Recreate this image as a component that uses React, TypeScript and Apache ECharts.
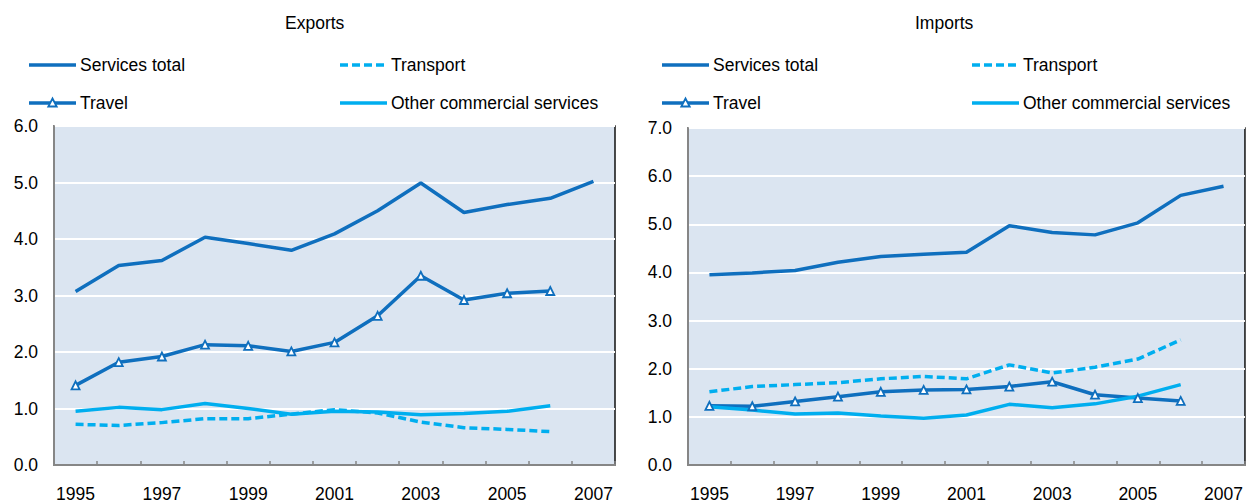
import React, { useEffect, useRef } from "react";
import * as echarts from "echarts";

const years = ["1995", "1996", "1997", "1998", "1999", "2000", "2001", "2002", "2003", "2004", "2005", "2006", "2007"];
const yTicksExports = [0, 1, 2, 3, 4, 5, 6];
const yTicksImports = [0, 1, 2, 3, 4, 5, 6, 7];

const seriesNames = ["Services total", "Transport", "Travel", "Other commercial services"];

// Exports
const expServicesTotal = [3.07, 3.53, 3.62, 4.03, 3.92, 3.8, 4.09, 4.5, 4.99, 4.47, 4.61, 4.72, 5.02];
const expTransport = [0.72, 0.7, 0.75, 0.82, 0.82, 0.9, 0.98, 0.92, 0.76, 0.66, 0.63, 0.59];
const expTravel = [1.41, 1.82, 1.92, 2.13, 2.11, 2.01, 2.17, 2.64, 3.35, 2.92, 3.04, 3.08];
const expOther = [0.95, 1.02, 0.98, 1.09, 1.0, 0.9, 0.95, 0.94, 0.89, 0.91, 0.95, 1.05];

// Imports
const impServicesTotal = [3.95, 3.99, 4.04, 4.21, 4.33, 4.38, 4.42, 4.97, 4.83, 4.78, 5.03, 5.6, 5.79];
const impTransport = [1.52, 1.63, 1.67, 1.71, 1.79, 1.84, 1.79, 2.08, 1.91, 2.03, 2.2, 2.6];
const impTravel = [1.23, 1.22, 1.32, 1.42, 1.52, 1.56, 1.57, 1.63, 1.73, 1.46, 1.39, 1.33];
const impOther = [1.21, 1.14, 1.06, 1.08, 1.02, 0.97, 1.04, 1.26, 1.19, 1.27, 1.43, 1.67];

const DARK = "#0f6fbe";
const LIGHT = "#00aeef";
const FONT = 'Arial, "Liberation Sans", sans-serif';
const FS = 17.5;
const DASH = [8, 4];

function makeSeries(idx: number, total: number[], transport: number[], travel: number[], other: number[]) {
  const base = { type: "line", xAxisIndex: idx, yAxisIndex: idx, smooth: false };
  return [
    { ...base, name: seriesNames[0], data: total, showSymbol: false, symbol: "none", lineStyle: { color: DARK, width: 3.5 }, itemStyle: { color: DARK } },
    { ...base, name: seriesNames[1], data: transport, showSymbol: false, symbol: "none", lineStyle: { color: LIGHT, width: 3.5, type: DASH }, itemStyle: { color: LIGHT } },
    {
      ...base,
      name: seriesNames[2],
      data: travel,
      symbol: "triangle",
      symbolSize: 8,
      lineStyle: { color: DARK, width: 3.5 },
      itemStyle: { color: "#ffffff", borderColor: DARK, borderWidth: 1.8 },
      z: 3,
    },
    { ...base, name: seriesNames[3], data: other, showSymbol: false, symbol: "none", lineStyle: { color: LIGHT, width: 3.5 }, itemStyle: { color: LIGHT } },
  ];
}

// legend drawn as graphic: [series index, column x of line start, row y]
function legendGraphics(x0: number, colGap: number) {
  const rows = [65, 103];
  const items: any[] = [];
  const styles = [
    { color: DARK, dash: null, tri: false },
    { color: LIGHT, dash: DASH, tri: false },
    { color: DARK, dash: null, tri: true },
    { color: LIGHT, dash: null, tri: false },
  ];
  seriesNames.forEach((name, i) => {
    const x = x0 + (i % 2) * colGap;
    const y = rows[Math.floor(i / 2)];
    const s = styles[i];
    items.push({
      type: "line",
      shape: { x1: x, y1: y, x2: x + 47, y2: y },
      style: { stroke: s.color, lineWidth: 3.5, lineDash: s.dash || undefined, lineCap: "butt" },
      silent: true,
    });
    if (s.tri) {
      const cx = x + 23.5;
      items.push({
        type: "polygon",
        shape: { points: [[cx, y - 4.5], [cx + 4.2, y + 3.5], [cx - 4.2, y + 3.5]] },
        style: { fill: "#ffffff", stroke: DARK, lineWidth: 1.8 },
        silent: true,
      });
    }
    items.push({
      type: "text",
      x: x + 51,
      y,
      style: { text: name, fontSize: FS, fontFamily: FONT, fill: "#000", verticalAlign: "middle", align: "left" },
      silent: true,
    });
  });
  return items;
}

function makeYAxis(idx: number, max: number, ticks: number[]) {
  return {
    type: "value",
    gridIndex: idx,
    min: ticks[0],
    max,
    interval: 1,
    axisLine: { show: true, lineStyle: { color: "#868686", width: 2 } },
    axisTick: { show: false },
    axisLabel: { fontSize: FS, color: "#000", fontFamily: FONT, margin: 16, formatter: (v: number) => v.toFixed(1) },
    splitLine: { show: true, lineStyle: { color: "#ffffff", width: 2 } },
  };
}

function makeXAxis(idx: number) {
  return {
    type: "category",
    gridIndex: idx,
    data: years,
    boundaryGap: true,
    axisLine: { show: true, lineStyle: { color: "#868686", width: 2 } },
    axisTick: { show: true, inside: true, length: 4, interval: 0, lineStyle: { color: "#868686", width: 1.5 } },
    axisLabel: { interval: 1, fontSize: FS, color: "#000", fontFamily: FONT, margin: 20 },
    splitLine: { show: false },
  };
}

export default function App() {
  const ref = useRef<HTMLDivElement>(null);
  useEffect(() => {
    if (!ref.current) return;
    const chart = echarts.init(ref.current, undefined, { renderer: "svg" });
    chart.setOption({
      animation: false,
      backgroundColor: "#ffffff",
      textStyle: { fontFamily: FONT },
      title: [
        { text: "Exports", left: 285, top: 14, padding: 0, textStyle: { fontSize: FS, fontWeight: "normal", color: "#000", fontFamily: FONT } },
        { text: "Imports", left: 915, top: 14, padding: 0, textStyle: { fontSize: FS, fontWeight: "normal", color: "#000", fontFamily: FONT } },
      ],
      graphic: [...legendGraphics(29, 311), ...legendGraphics(662, 310)],
      grid: [
        { left: 54, top: 126, width: 561, height: 341, show: true, backgroundColor: "#dbe5f1", borderColor: "#111", borderWidth: 1.5 },
        { left: 688, top: 128, width: 557, height: 341, show: true, backgroundColor: "#dbe5f1", borderColor: "#111", borderWidth: 1.5 },
      ],
      xAxis: [makeXAxis(0), makeXAxis(1)],
      yAxis: [makeYAxis(0, 6, yTicksExports), makeYAxis(1, 7, yTicksImports)],
      series: [
        ...makeSeries(0, expServicesTotal, expTransport, expTravel, expOther),
        ...makeSeries(1, impServicesTotal, impTransport, impTravel, impOther),
      ],
    });
    return () => chart.dispose();
  }, []);
  return <div ref={ref} style={{ position: "fixed", left: 0, top: 0, width: 1246, height: 503 }} />;
}
